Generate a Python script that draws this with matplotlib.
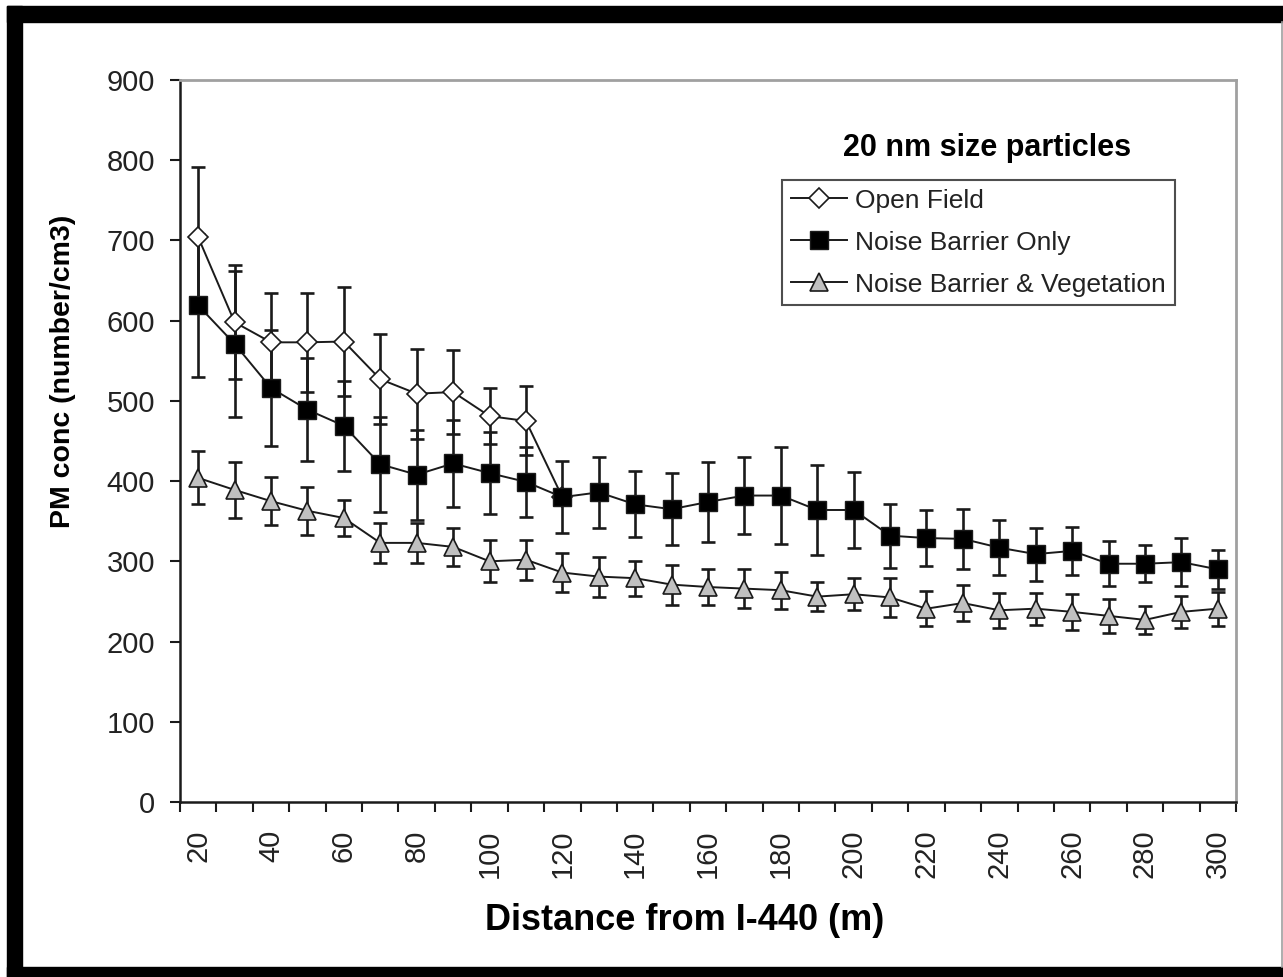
import matplotlib
matplotlib.use("Agg")
import matplotlib.pyplot as plt
from matplotlib import font_manager
from matplotlib.patches import Rectangle
from matplotlib.lines import Line2D
import numpy as np

# ---------------- data ----------------
distances = [20, 30, 40, 50, 60, 70, 80, 90, 100, 110, 120, 130, 140, 150, 160,
             170, 180, 190, 200, 210, 220, 230, 240, 250, 260, 270, 280, 290, 300]
tick_labels = ["20", "40", "60", "80", "100", "120", "140", "160", "180", "200",
               "220", "240", "260", "280", "300"]

open_field = [704, 598, 573, 573, 574, 527, 509, 511, 481, 475, 380]
open_field_err = [88, 71, 62, 62, 68, 56, 56, 52, 35, 43, 0]

barrier_only = [619, 571, 516, 489, 469, 421, 408, 422, 410, 399, 380, 386, 371, 365, 374,
                382, 382, 364, 364, 332, 329, 328, 317, 309, 313, 297, 297, 299, 290]
barrier_only_err = [89, 91, 72, 64, 56, 59, 56, 54, 51, 44, 45, 44, 41, 45, 50,
                    48, 60, 56, 47, 40, 35, 37, 34, 33, 30, 28, 23, 30, 24]

barrier_veg = [404, 389, 375, 363, 354, 323, 323, 318, 300, 302, 286, 281, 279, 271, 268,
               266, 264, 256, 259, 255, 241, 248, 239, 241, 237, 232, 227, 237, 241]
barrier_veg_err = [33, 35, 30, 30, 22, 25, 25, 24, 26, 25, 24, 25, 22, 25, 23,
                   24, 23, 18, 20, 24, 22, 22, 22, 20, 22, 21, 17, 20, 21]

y_ticks = [0, 100, 200, 300, 400, 500, 600, 700, 800, 900]

title_text = "20 nm size particles"
xlabel_text = "Distance from I-440 (m)"
ylabel_text = "PM conc (number/cm3)"
series_names = ["Open Field", "Noise Barrier Only", "Noise Barrier & Vegetation"]

# ---------------- fonts ----------------
available = {f.name for f in font_manager.fontManager.ttflist}
base_font = "Liberation Sans" if "Liberation Sans" in available else "DejaVu Sans"
plt.rcParams["font.family"] = [base_font, "DejaVu Sans"]

W, H = 1283, 977
fig = plt.figure(figsize=(W / 100, H / 100), dpi=100)
fig.patch.set_facecolor("white")

ax = fig.add_axes([180 / W, 1 - 802 / H, (1236 - 180) / W, (802 - 80) / H])

n = len(distances)
pos = np.arange(n)

ecol = "#1a1a1a"
# error bars (beneath markers)
ax.errorbar(pos[:len(open_field)], open_field, yerr=open_field_err, fmt="none",
            ecolor=ecol, elinewidth=1.9, capsize=4.7, capthick=1.9, zorder=2)
ax.errorbar(pos, barrier_only, yerr=barrier_only_err, fmt="none",
            ecolor=ecol, elinewidth=1.9, capsize=4.7, capthick=1.9, zorder=2)
ax.errorbar(pos, barrier_veg, yerr=barrier_veg_err, fmt="none",
            ecolor=ecol, elinewidth=1.9, capsize=4.7, capthick=1.9, zorder=2)

ax.plot(pos[:len(open_field)], open_field, color=ecol, lw=1.4, marker="D",
        markersize=10, markerfacecolor="white", markeredgecolor=ecol,
        markeredgewidth=1.2, zorder=3)
ax.plot(pos, barrier_only, color=ecol, lw=1.4, marker="s",
        markersize=13.5, markerfacecolor="black", markeredgecolor=ecol,
        markeredgewidth=1.0, zorder=4)
ax.plot(pos, barrier_veg, color=ecol, lw=1.4, marker="^",
        markersize=13.5, markerfacecolor="#c0c0c0", markeredgecolor=ecol,
        markeredgewidth=1.2, zorder=5)

ax.set_xlim(-0.5, n - 0.5)
ax.set_ylim(0, 900)
ax.set_yticks(y_ticks)
ax.set_yticklabels([str(v) for v in y_ticks])

# category axis: tick marks between categories, labels on every second category
ax.set_xticks(np.arange(-0.5, n, 1.0))
ax.set_xticklabels([])
ax.set_xticks(pos[::2], minor=True)
ax.set_xticklabels(tick_labels, minor=True, rotation=90)
ax.tick_params(axis="x", which="major", direction="out", length=7, width=1.5, color=ecol)
ax.tick_params(axis="x", which="minor", length=0, pad=20, labelsize=21, labelcolor="#222222")
ax.tick_params(axis="y", direction="out", length=7, width=1.5, color=ecol, pad=11,
               labelsize=21, labelcolor="#222222")

for s in ["left", "bottom"]:
    ax.spines[s].set_color(ecol)
    ax.spines[s].set_linewidth(1.8)
for s in ["top", "right"]:
    ax.spines[s].set_color("#a0a0a0")
    ax.spines[s].set_linewidth(2.0)

fig.text(63 / W, 1 - 371 / H, ylabel_text, rotation=90, ha="center", va="center",
         fontsize=20.5, fontweight="bold")
fig.text(685 / W, 1 - 921 / H, xlabel_text, ha="center", va="center",
         fontsize=26, fontweight="bold")
fig.text(987 / W, 1 - 148 / H, title_text, ha="center", va="center",
         fontsize=22, fontweight="bold")

handles = [
    Line2D([], [], color=ecol, lw=1.4, marker="D", markersize=10,
           markerfacecolor="white", markeredgecolor=ecol, markeredgewidth=1.2),
    Line2D([], [], color=ecol, lw=1.4, marker="s", markersize=13.5,
           markerfacecolor="black", markeredgecolor=ecol),
    Line2D([], [], color=ecol, lw=1.4, marker="^", markersize=13.5,
           markerfacecolor="#c0c0c0", markeredgecolor=ecol, markeredgewidth=1.2),
]
leg = fig.legend(handles, series_names, loc="upper left",
                 bbox_to_anchor=(782 / W, 1 - 180 / H), fontsize=19,
                 frameon=True, fancybox=False, edgecolor="#222222",
                 handlelength=2.15, handletextpad=0.3, labelspacing=0.68,
                 borderpad=0.33, borderaxespad=0.0)
leg.get_frame().set_linewidth(1.5)
for t in leg.get_texts():
    t.set_color("#222222")

# picture frame: black bands top, left, bottom; thin grey at right
fig.patches.append(Rectangle((7 / W, 1 - 22 / H), (W - 7) / W, 16 / H,
                             transform=fig.transFigure, color="black", zorder=0))
fig.patches.append(Rectangle((7 / W, 0), 15 / W, 1 - 6 / H,
                             transform=fig.transFigure, color="black", zorder=0))
fig.patches.append(Rectangle((7 / W, 0), (W - 7) / W, 10 / H,
                             transform=fig.transFigure, color="black", zorder=0))
fig.lines.append(Line2D([1281.5 / W, 1281.5 / W], [10 / H, 1 - 22 / H],
                        transform=fig.transFigure, color="#a0a0a0", lw=1.2))

fig.savefig("out.png", dpi=100, facecolor="white")
